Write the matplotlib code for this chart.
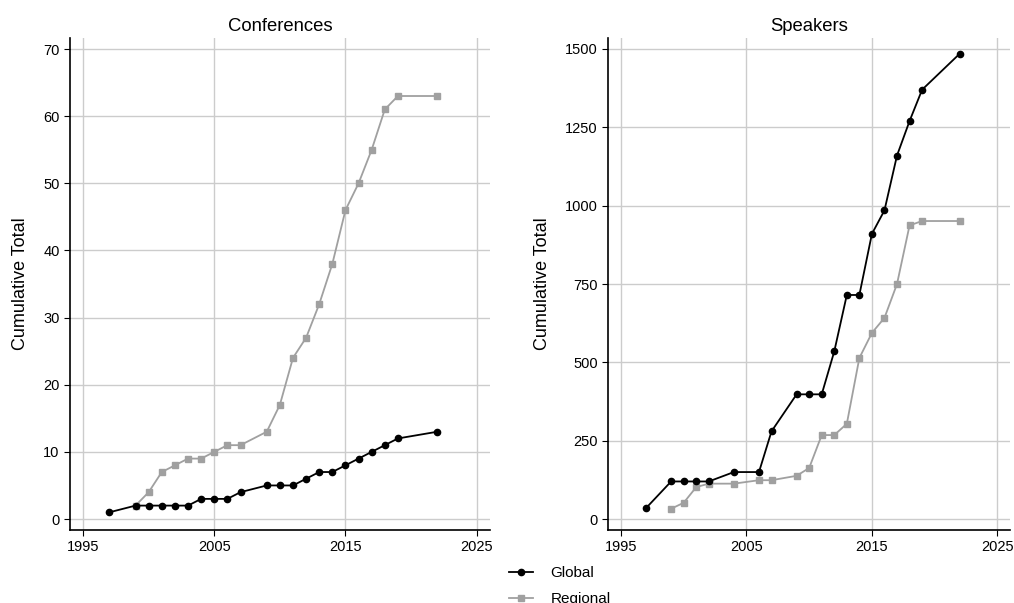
import matplotlib
matplotlib.use('Agg')
import matplotlib.pyplot as plt

plt.rcParams['font.family'] = ['Liberation Sans', 'DejaVu Sans']

# Conferences (cumulative)
conf_global_years = [1997, 1999, 2000, 2001, 2002, 2003, 2004, 2005, 2006, 2007, 2009,
                     2010, 2011, 2012, 2013, 2014, 2015, 2016, 2017, 2018, 2019, 2022]
conf_global = [1, 2, 2, 2, 2, 2, 3, 3, 3, 4, 5, 5, 5, 6, 7, 7, 8, 9, 10, 11, 12, 13]
conf_regional_years = [1999, 2000, 2001, 2002, 2003, 2004, 2005, 2006, 2007, 2009, 2010,
                       2011, 2012, 2013, 2014, 2015, 2016, 2017, 2018, 2019, 2022]
conf_regional = [2, 4, 7, 8, 9, 9, 10, 11, 11, 13, 17, 24, 27, 32, 38, 46, 50, 55, 61, 63, 63]

# Speakers (cumulative)
spk_global_years = [1997, 1999, 2000, 2001, 2002, 2004, 2006, 2007, 2009, 2010, 2011,
                    2012, 2013, 2014, 2015, 2016, 2017, 2018, 2019, 2022]
spk_global = [35, 120, 120, 120, 120, 150, 150, 280, 398, 398, 398,
              535, 715, 715, 910, 985, 1160, 1270, 1370, 1485]
spk_regional_years = [1999, 2000, 2001, 2002, 2004, 2006, 2007, 2009, 2010, 2011,
                      2012, 2013, 2014, 2015, 2016, 2017, 2018, 2019, 2022]
spk_regional = [33, 52, 102, 113, 113, 124, 124, 138, 163, 268,
                268, 304, 514, 594, 642, 750, 937, 951, 951]

xticks = [1995, 2005, 2015, 2025]

fig = plt.figure(figsize=(10.14, 6.03), dpi=100)
ax1 = fig.add_axes([0.069, 0.121, 0.414, 0.816])
ax2 = fig.add_axes([0.600, 0.121, 0.396, 0.816])

panels = [
    (ax1, 'Conferences', conf_global_years, conf_global, conf_regional_years, conf_regional,
     range(0, 71, 10), (-1.64, 71.64)),
    (ax2, 'Speakers', spk_global_years, spk_global, spk_regional_years, spk_regional,
     range(0, 1501, 250), (-35, 1535)),
]

for ax, title, gx, gy, rx, ry, yt, ylim in panels:
    lg, = ax.plot(gx, gy, color='black', marker='o', markersize=4.5, linewidth=1.3,
                  label='Global', zorder=3)
    lr, = ax.plot(rx, ry, color='#a0a0a0', marker='s', markersize=4.5, linewidth=1.3,
                  label='Regional', zorder=2)
    ax.set_title(title, fontsize=13.3, pad=5)
    ax.set_ylabel('Cumulative Total', fontsize=13, labelpad=10)
    ax.set_xlim(1994, 2026)
    ax.set_ylim(*ylim)
    ax.set_xticks(xticks)
    ax.set_yticks(list(yt))
    ax.grid(True, color='#cccccc', linewidth=1)
    ax.set_axisbelow(True)
    ax.spines['top'].set_visible(False)
    ax.spines['right'].set_visible(False)
    ax.spines['left'].set_linewidth(1.2)
    ax.spines['bottom'].set_linewidth(1.2)
    ax.tick_params(labelsize=10.5, direction='out', length=4)

fig.legend(handles=[lg, lr], loc='upper left', bbox_to_anchor=(0.502, 0.061),
           frameon=False, fontsize=11, ncol=1, handlelength=1.6, handletextpad=1.1,
           labelspacing=0.8, borderpad=0, borderaxespad=0)

fig.savefig('out.png', dpi=100)
